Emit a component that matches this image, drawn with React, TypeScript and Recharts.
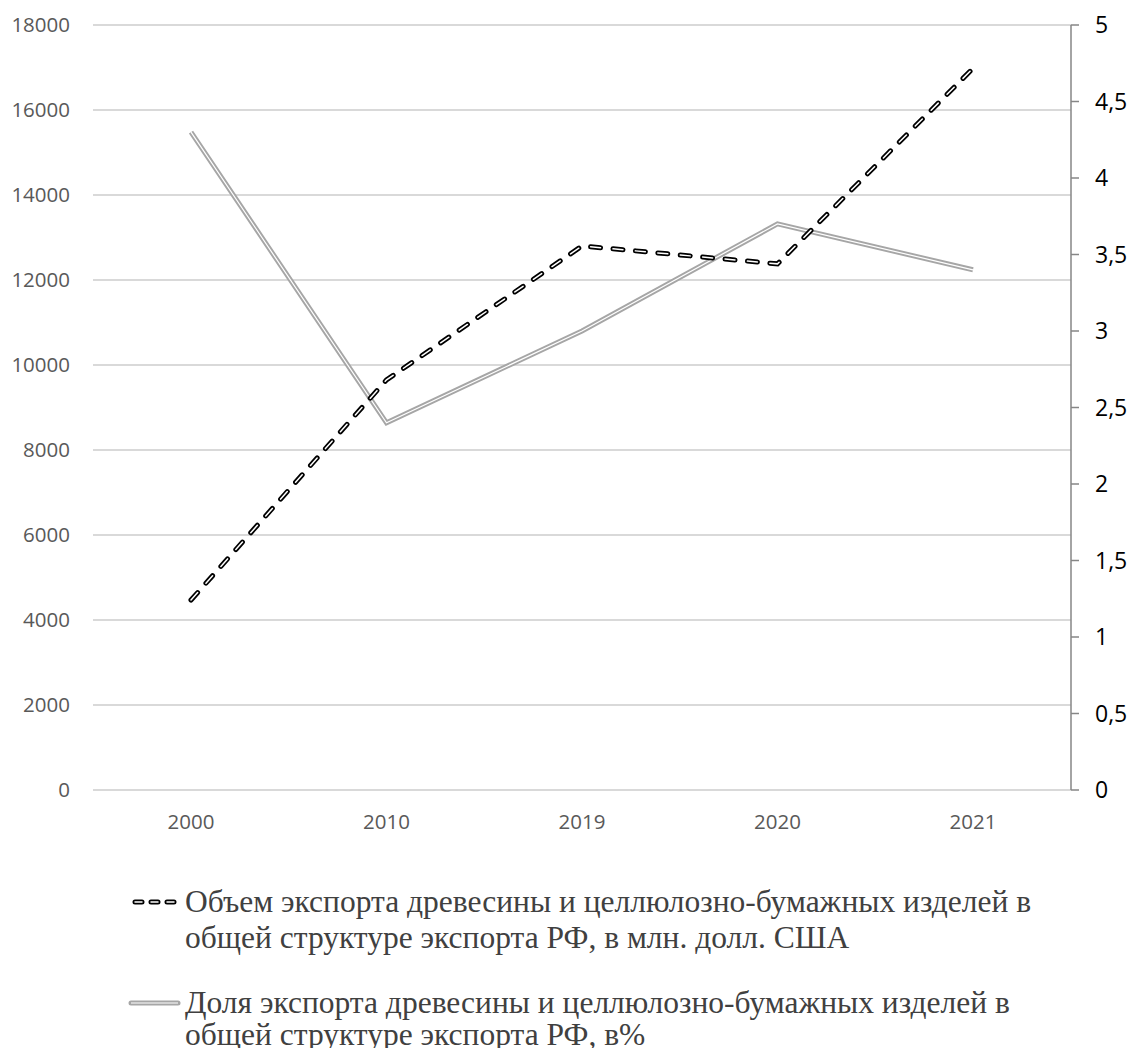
import React from 'react';
import { CartesianGrid, Line, LineChart, XAxis, YAxis } from 'recharts';

const years = ['2000', '2010', '2019', '2020', '2021'];
const exportVolume = [4470, 9650, 12800, 12380, 16980];
const exportShare = [4.3, 2.4, 3.0, 3.7, 3.4];

const leftTicks = [0, 2000, 4000, 6000, 8000, 10000, 12000, 14000, 16000, 18000];
const rightTicks = [0, 0.5, 1, 1.5, 2, 2.5, 3, 3.5, 4, 4.5, 5];

const volumeLabel = 'Объем экспорта древесины и целлюлозно-бумажных изделей в общей структуре экспорта РФ, в млн. долл. США';
const shareLabel = 'Доля экспорта древесины и целлюлозно-бумажных изделей в общей структуре экспорта РФ, в%';

const data = years.map((year, i) => ({
  year,
  volume: exportVolume[i],
  share: exportShare[i],
}));

const axisFont = '"Open Sans", "Noto Sans", sans-serif';

const LegendItem = ({ dashed, text, top, lh }: { dashed: boolean; text: string; top: number; lh: number }) => (
  <div style={{ position: 'absolute', left: 128, top, width: 960, display: 'flex' }}>
    <svg width={57} height={lh} style={{ flexShrink: 0 }}>
      {dashed ? (
        <>
          <line x1={7} y1={lh / 2} x2={48} y2={lh / 2} stroke="#000" strokeWidth={5} strokeDasharray="7 9" strokeLinecap="round" />
          <line x1={7} y1={lh / 2} x2={48} y2={lh / 2} stroke="#fff" strokeWidth={1.5} strokeDasharray="7 9" strokeLinecap="round" />
        </>
      ) : (
        <>
          <line x1={3} y1={lh / 2} x2={50} y2={lh / 2} stroke="#a6a6a6" strokeWidth={5} strokeLinecap="round" />
          <line x1={3} y1={lh / 2} x2={50} y2={lh / 2} stroke="#fff" strokeWidth={1.2} />
        </>
      )}
    </svg>
    <div style={{ width: 885, fontFamily: '"Liberation Serif", "Times New Roman", serif', fontSize: 31.5, lineHeight: `${lh}px`, color: '#404040' }}>
      {text}
    </div>
  </div>
);

const App = () => {
  return (
    <div style={{ position: 'relative', left: -8, top: -8, width: 1136, height: 1048, background: '#fff', overflow: 'hidden' }}>
      <LineChart width={1136} height={840} data={data} margin={{ top: 25, right: 0, left: 0, bottom: 0 }}>
        <CartesianGrid yAxisId="left" vertical={false} stroke="#d9d9d9" strokeWidth={2} />
        <XAxis
          dataKey="year"
          padding={{ left: 98, right: 98 }}
          axisLine={{ stroke: '#d9d9d9', strokeWidth: 2 }}
          tickLine={false}
          height={50}
          tickMargin={18}
          tick={{ fill: '#595959', fontSize: 20.5, fontFamily: axisFont }}
        />
        <YAxis
          yAxisId="left"
          domain={[0, 18000]}
          ticks={leftTicks}
          width={93}
          axisLine={false}
          tickLine={false}
          tickMargin={17}
          tick={{ fill: '#595959', fontSize: 20.5, fontFamily: axisFont }}
        />
        <YAxis
          yAxisId="right"
          orientation="right"
          domain={[0, 5]}
          ticks={rightTicks}
          tickFormatter={(v: number) => String(v).replace('.', ',')}
          width={65}
          axisLine={{ stroke: '#868686', strokeWidth: 1.5 }}
          tickLine={{ stroke: '#868686', strokeWidth: 1.5 }}
          tickSize={8}
          tickMargin={16}
          tick={{ fill: '#000', fontSize: 23, fontFamily: axisFont }}
        />
        <Line yAxisId="right" type="linear" dataKey="share" stroke="#a6a6a6" strokeWidth={5} dot={false} isAnimationActive={false} />
        <Line yAxisId="right" type="linear" dataKey="share" stroke="#fff" strokeWidth={1.2} dot={false} isAnimationActive={false} />
        <Line yAxisId="left" type="linear" dataKey="volume" stroke="#000" strokeWidth={5} strokeDasharray="10 12.5" strokeLinecap="round" dot={false} isAnimationActive={false} />
        <Line yAxisId="left" type="linear" dataKey="volume" stroke="#fff" strokeWidth={1.5} strokeDasharray="10 12.5" strokeLinecap="round" dot={false} isAnimationActive={false} />
      </LineChart>
      <LegendItem dashed text={volumeLabel} top={884} lh={36} />
      <LegendItem dashed={false} text={shareLabel} top={987} lh={32} />
    </div>
  );
};

export default App;
